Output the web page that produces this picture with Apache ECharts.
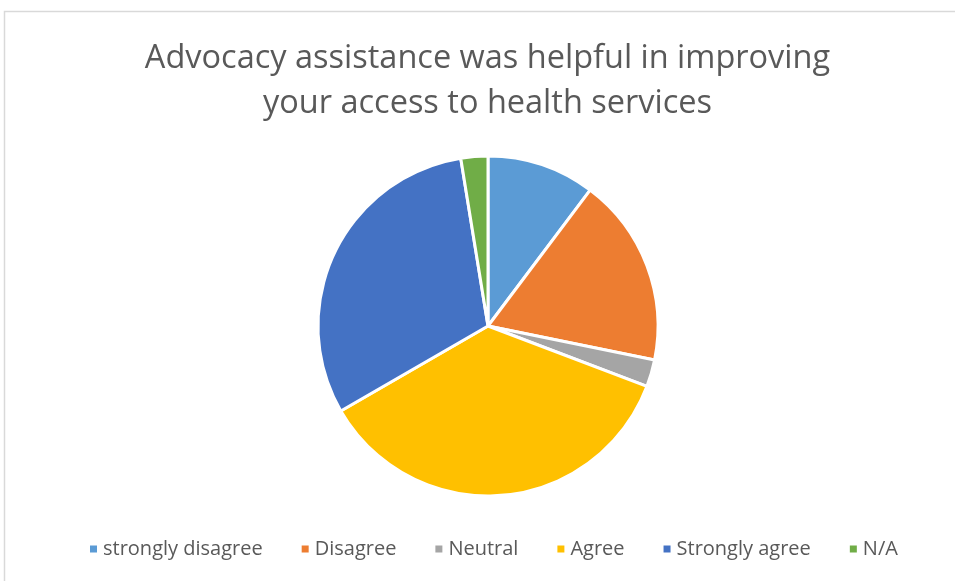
<!DOCTYPE html>
<html>
<head>
<meta charset="utf-8">
<script src="https://cdn.jsdelivr.net/npm/echarts@6/dist/echarts.min.js"></script>
<style>
  html, body { margin: 0; padding: 0; background: #fff; }
  #chart { width: 955px; height: 581px; }
</style>
</head>
<body>
<div id="chart"></div>
<script>
// Survey responses
const categories = ['strongly disagree', 'Disagree', 'Neutral', 'Agree', 'Strongly agree', 'N/A'];
const counts = [4, 7, 1, 14, 12, 1];
const colors = ['#5B9BD5', '#ED7D31', '#A5A5A5', '#FFC000', '#4472C4', '#70AD47'];
const titleText = 'Advocacy assistance was helpful in improving\nyour access to health services';

const chart = echarts.init(document.getElementById('chart'));
chart.setOption({
  animation: false,
  color: colors,
  legend: {
    bottom: 17,
    left: 83,
    icon: 'rect',
    itemWidth: 9,
    itemHeight: 9,
    itemGap: 37,
    textStyle: { fontFamily: 'Open Sans', fontSize: 20, color: '#595959' },
    data: categories
  },
  graphic: [{
    type: 'rect',
    shape: { x: 4.5, y: 11.5, width: 1000, height: 600 },
    style: { fill: 'none', stroke: '#D9D9D9', lineWidth: 1.5 },
    silent: true
  }, {
    type: 'text',
    x: 487.5,
    y: 36,
    silent: true,
    style: {
      text: titleText,
      align: 'center',
      verticalAlign: 'top',
      font: '32.5px "Open Sans"',
      fill: '#595959',
      lineHeight: 45
    }
  }],
  series: [{
    type: 'pie',
    center: [488, 326],
    radius: 170,
    startAngle: 90,
    clockwise: true,
    label: { show: false },
    labelLine: { show: false },
    itemStyle: { borderColor: '#fff', borderWidth: 3 },
    data: categories.map((name, i) => ({ name, value: counts[i] }))
  }]
});
</script>
</body>
</html>
